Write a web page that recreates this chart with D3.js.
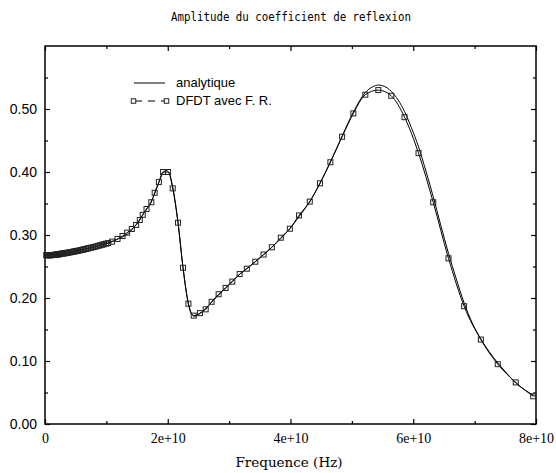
<!DOCTYPE html>
<html>
<head>
<meta charset="utf-8">
<script src="https://cdn.jsdelivr.net/npm/d3@7"></script>
<style>
  body { margin: 0; background: #fff; }
  svg { display: block; }
</style>
</head>
<body>
<div id="chart"></div>
<script>
// frequencies in GHz, amplitudes |R|
const freqAna = [0, 2.44, 4.88, 7.32, 8.94, 10.57, 12.2, 13.5, 14.8, 15.93, 17.24, 17.89, 18.54, 19.19, 19.67, 20.16,
    20.81, 21.67, 22.49, 23.37, 23.9, 24.39, 25.2, 27.15, 29.43, 31.71, 34.26, 36.96, 39.89, 41.46, 43.14, 44.8,
    46.5, 48.41, 50.24, 52.19, 53.33, 54.31, 55.28, 56.42, 57.56, 58.58, 59.67, 60.86, 62.11, 63.25, 64.47, 65.74,
    66.99, 68.29, 69.59, 71.01, 72.36, 73.77, 75.2, 76.7, 78.2, 79.84];
const ampAna = [0.268, 0.27, 0.2741, 0.2794, 0.2835, 0.2885, 0.2952, 0.302, 0.3159, 0.332, 0.352, 0.366, 0.383, 0.398, 0.4025, 0.4,
    0.376, 0.32, 0.248, 0.19, 0.174, 0.171, 0.175, 0.1935, 0.216, 0.2375, 0.2576, 0.2805, 0.31, 0.33, 0.353, 0.382,
    0.416, 0.457, 0.495, 0.526, 0.535, 0.538, 0.536, 0.528, 0.514, 0.496, 0.471, 0.44, 0.4, 0.361, 0.316, 0.271,
    0.231, 0.192, 0.161, 0.135, 0.115, 0.097, 0.081, 0.065, 0.054, 0.044];

const freqDFDT = [0.2, 0.3, 0.4, 0.5, 0.6, 0.7, 0.8, 0.9, 1.0, 1.1, 1.2, 1.35, 1.5, 1.65, 1.8, 1.95, 2.1, 2.25,
    2.4, 2.55, 2.7, 2.85, 3.0, 3.2, 3.4, 3.6, 3.8, 4.0, 4.2, 4.4, 4.6, 4.8, 5.0, 5.2, 5.45, 5.7, 5.95, 6.2, 6.45,
    6.7, 6.95, 7.2, 7.5, 7.8, 8.1, 8.4, 8.7, 9.0, 9.3, 9.6, 9.95, 10.3,
    10.94, 11.82, 12.63, 13.38, 14.15, 14.85, 15.45, 15.93, 16.54, 17.32,
    17.87, 18.55, 19.24, 20.05, 20.81, 21.67, 22.49, 23.37, 24.23, 25.25, 26.18, 27.15, 28.29, 29.43, 30.52,
    31.71, 32.89, 34.26, 35.61, 36.96, 38.42, 39.89, 41.38, 43.14, 44.8, 46.5, 48.41, 50.24, 52.19, 54.31,
    56.42, 58.58, 60.86, 63.25, 65.74, 68.29, 71.01, 73.77, 76.7, 79.54];
const ampDFDT = [0.268, 0.268, 0.268, 0.268, 0.268, 0.268, 0.268, 0.268, 0.2681, 0.2681, 0.2682, 0.2683, 0.2684, 0.2686, 0.2688, 0.269, 0.2692, 0.2694,
    0.2697, 0.27, 0.2703, 0.2705, 0.2707, 0.271, 0.2713, 0.2717, 0.272, 0.2724, 0.2728, 0.2731, 0.2735, 0.2739, 0.2743, 0.2747, 0.2752, 0.2757, 0.2763, 0.2768, 0.2774,
    0.278, 0.2786, 0.2792, 0.2799, 0.2806, 0.2813, 0.2821, 0.2829, 0.2837, 0.2845, 0.2853, 0.2862, 0.2872,
    0.2895, 0.2937, 0.2984, 0.3037, 0.3095, 0.316, 0.3238, 0.332, 0.3413, 0.352,
    0.367, 0.384, 0.4, 0.4, 0.374, 0.3195, 0.248, 0.191, 0.172, 0.176, 0.182, 0.194, 0.206, 0.216, 0.226,
    0.238, 0.2465, 0.2576, 0.269, 0.2805, 0.2957, 0.31, 0.331, 0.353, 0.382, 0.4155, 0.456, 0.493, 0.5227, 0.53,
    0.521, 0.487, 0.43, 0.352, 0.263, 0.187, 0.134, 0.095, 0.066, 0.044];

const xMajor = [0, 20, 40, 60, 80];
const xMinor = [10, 30, 50, 70];
const yMajor = [0, 0.1, 0.2, 0.3, 0.4, 0.5];
const yMinor = [0.05, 0.15, 0.25, 0.35, 0.45, 0.55];

const titleText = "Amplitude du coefficient de reflexion";
const xLabel = "Frequence (Hz)";
const seriesNames = ["analytique", "DFDT avec F. R."];

const W = 556, H = 473;
const margin = {top: 46, right: 20, bottom: 49, left: 45};
const width = W - margin.left - margin.right;
const height = H - margin.top - margin.bottom;

const svg = d3.select("#chart").append("svg")
    .attr("width", W)
    .attr("height", H);

const g = svg.append("g")
    .attr("transform", `translate(${margin.left},${margin.top})`);

const x = d3.scaleLinear().domain([0, 80]).range([0, width]);
const y = d3.scaleLinear().domain([0, 0.6]).range([height, 0]);

// title
svg.append("text")
    .attr("x", 291)
    .attr("y", 21)
    .attr("text-anchor", "middle")
    .attr("textLength", 240)
    .attr("lengthAdjust", "spacingAndGlyphs")
    .style("font-family", "'DejaVu Sans Mono', monospace")
    .style("font-size", "12.5px")
    .text(titleText);

// axes (ticks pointing inward)
function styleAxis(sel) {
    sel.select(".domain").remove();
    sel.selectAll(".tick line").attr("stroke", "#000").attr("stroke-width", 1.2);
}

const xFmt = d => d === 0 ? "0" : (d / 10) + "e+10";

g.append("g").attr("transform", `translate(0,${height})`)
    .call(d3.axisBottom(x).tickValues(xMajor).tickSize(-5).tickPadding(9).tickFormat(xFmt))
    .call(styleAxis)
    .selectAll("text")
    .style("font-family", "'Liberation Serif', serif")
    .style("font-size", "14px")
    .attr("fill", "#000");
g.append("g").attr("transform", `translate(0,${height})`)
    .call(d3.axisBottom(x).tickValues(xMinor).tickSize(-3).tickFormat(""))
    .call(styleAxis);
g.append("g")
    .call(d3.axisTop(x).tickValues(xMajor).tickSize(-5).tickFormat(""))
    .call(styleAxis);
g.append("g")
    .call(d3.axisTop(x).tickValues(xMinor).tickSize(-3).tickFormat(""))
    .call(styleAxis);

g.append("g")
    .call(d3.axisLeft(y).tickValues(yMajor).tickSize(-5).tickPadding(8).tickFormat(d3.format(".2f")))
    .call(styleAxis)
    .selectAll("text")
    .style("font-family", "'Liberation Sans', Arial, sans-serif")
    .style("font-size", "14px")
    .attr("fill", "#000");
g.append("g")
    .call(d3.axisLeft(y).tickValues(yMinor).tickSize(-3).tickFormat(""))
    .call(styleAxis);
g.append("g").attr("transform", `translate(${width},0)`)
    .call(d3.axisRight(y).tickValues(yMajor).tickSize(-5).tickFormat(""))
    .call(styleAxis);
g.append("g").attr("transform", `translate(${width},0)`)
    .call(d3.axisRight(y).tickValues(yMinor).tickSize(-3).tickFormat(""))
    .call(styleAxis);

// frame
g.append("rect")
    .attr("width", width)
    .attr("height", height)
    .attr("fill", "none")
    .attr("stroke", "#000")
    .attr("stroke-width", 1.5);

// x label
svg.append("text")
    .attr("x", 289)
    .attr("y", 467)
    .attr("text-anchor", "middle")
    .style("font-family", "'DejaVu Serif', serif")
    .style("font-size", "13.5px")
    .text(xLabel);

// curves
const anaData = freqAna.map((f, i) => ({f: f, a: ampAna[i]}));
const dfdtData = freqDFDT.map((f, i) => ({f: f, a: ampDFDT[i]}));

const line = d3.line()
    .x(d => x(d.f))
    .y(d => y(d.a))
    .curve(d3.curveMonotoneX);

g.append("path")
    .datum(anaData)
    .attr("d", line)
    .attr("fill", "none")
    .attr("stroke", "#000")
    .attr("stroke-width", 1);

g.append("path")
    .datum(dfdtData)
    .attr("d", line)
    .attr("fill", "none")
    .attr("stroke", "#000")
    .attr("stroke-width", 1);

const ms = 5;
g.selectAll(".marker")
    .data(dfdtData)
    .enter().append("rect")
    .attr("class", "marker")
    .attr("x", d => x(d.f) - ms / 2)
    .attr("y", d => y(d.a) - ms / 2)
    .attr("width", ms)
    .attr("height", ms)
    .attr("fill", "none")
    .attr("stroke", "#222")
    .attr("stroke-width", 1);

// legend
const legend = svg.append("g");
legend.append("line")
    .attr("x1", 134).attr("x2", 165)
    .attr("y1", 83).attr("y2", 83)
    .attr("stroke", "#000").attr("stroke-width", 1);
legend.append("line")
    .attr("x1", 135).attr("x2", 165)
    .attr("y1", 101).attr("y2", 101)
    .attr("stroke", "#000").attr("stroke-width", 1)
    .attr("stroke-dasharray", "7,6");
[133.5, 166.5].forEach(cx => {
    legend.append("rect")
        .attr("x", cx - 2.25).attr("y", 101 - 2.25)
        .attr("width", 4.5).attr("height", 4.5)
        .attr("fill", "#fff").attr("stroke", "#222").attr("stroke-width", 1);
});
legend.selectAll(".ltext")
    .data(seriesNames)
    .enter().append("text")
    .attr("x", 176)
    .attr("y", (d, i) => 87 + i * 18)
    .style("font-family", "'Liberation Sans', Arial, sans-serif")
    .style("font-size", "13px")
    .text(d => d);
</script>
</body>
</html>
